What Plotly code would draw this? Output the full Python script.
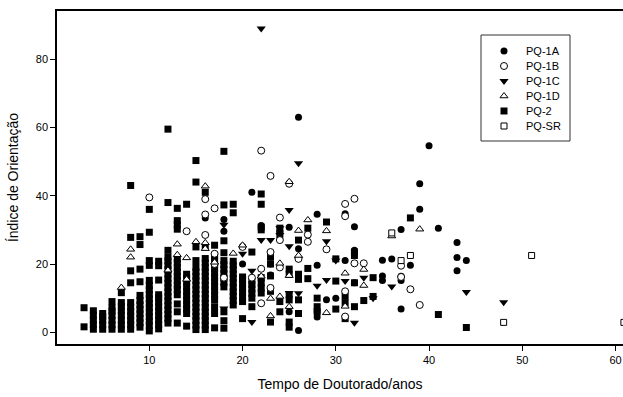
import plotly.graph_objects as go

# ---------------- data ----------------
series_names = ["PQ-1A", "PQ-1B", "PQ-1C", "PQ-1D", "PQ-2", "PQ-SR"]

# PQ-1A : filled circles
pq1a_x = [16, 18, 18, 20, 21, 22, 23, 23, 24, 25, 25, 26, 26, 26, 28, 28, 28, 28, 29, 30,
          31, 31, 32, 32, 32, 35, 35, 35, 36, 37, 37, 37, 37, 38, 39, 39, 40, 41, 43, 43, 43, 44]
pq1a_y = [33.5, 33.0, 29.6, 20.0, 41.0, 31.3, 20.0, 16.8, 29.5, 30.8, 6.0, 63.0, 24.5, 0.5, 34.6, 19.6, 4.5, 6.0, 9.5, 10.0,
          34.7, 21.0, 30.9, 24.0, 14.5, 21.1, 16.5, 15.2, 21.5, 30.1, 16.4, 15.2, 6.8, 19.6, 43.5, 36.0, 54.6, 30.5, 26.3, 21.9, 18.0, 21.0]

# PQ-1B : open circles
pq1b_x = [10, 14, 16, 16, 16, 17, 17, 17, 18, 20, 21, 22, 22, 22, 23, 23, 23, 24, 24, 24, 25, 26,
          27, 27, 29, 31, 31, 31, 31, 32, 32, 33, 37, 37, 38, 39]
pq1b_y = [39.5, 29.6, 39.0, 34.5, 28.5, 36.3, 23.0, 20.0, 16.0, 25.0, 16.0, 53.2, 18.6, 8.5, 45.8, 23.5, 13.0, 33.6, 27.0, 19.0, 43.5, 21.5,
          28.6, 26.5, 24.3, 37.6, 34.0, 12.0, 4.6, 39.1, 20.2, 20.2, 19.5, 16.2, 12.6, 8.0]

# PQ-1C : filled down-triangles
pq1c_x = [18, 18, 20, 21, 21, 22, 22, 23, 24, 24, 25, 25, 25, 26, 26, 26, 28, 29, 29, 30,
          31, 32, 33, 34, 36, 44, 48]
pq1c_y = [31.5, 7.0, 23.0, 18.0, 3.0, 89.0, 27.0, 27.0, 30.5, 28.5, 35.8, 25.2, 11.5, 49.5, 21.5, 11.4, 13.6, 26.7, 15.3, 21.0,
          15.0, 2.8, 16.0, 10.0, 13.4, 11.8, 8.8]

# PQ-1D : open up-triangles
pq1d_x = [7, 8, 8, 12, 13, 13, 14, 14, 15, 16, 16, 16, 17, 19, 20, 22, 23, 23, 24, 24,
          25, 25, 25, 26, 26, 27, 29, 29, 31, 31, 33, 33, 36, 39]
pq1d_y = [13.1, 24.3, 22.0, 18.2, 25.8, 22.7, 21.8, 15.5, 26.5, 42.8, 26.2, 24.5, 20.5, 23.1, 25.5, 16.4, 9.9, 4.8, 20.2, 10.5,
          44.1, 16.6, 7.5, 29.8, 22.5, 32.9, 29.7, 5.7, 17.3, 7.6, 18.4, 13.7, 28.2, 30.2]

# PQ-2 : filled squares, values per x (years)
pq2_cols = {
    3: [1.6, 7.2],
    4: [0.9, 2.3, 3.6, 5.0, 6.3],
    5: [0.9, 2.2, 3.5, 4.6, 5.5],
    6: [0.9, 2.2, 3.5, 4.9, 6.2, 7.1, 9.0],
    7: [0.9, 2.2, 3.6, 5.0, 6.3, 7.6, 8.7, 11.6],
    8: [0.9, 2.2, 3.5, 4.8, 6.1, 7.4, 8.7, 14.5, 18.0, 27.8, 43.0],
    9: [1.5, 2.8, 4.1, 5.4, 6.7, 8.0, 9.3, 10.8, 14.8, 18.5, 25.7, 28.0],
    10: [0.4, 2.0, 3.3, 4.6, 5.9, 7.2, 8.5, 9.8, 11.1, 12.4, 13.7, 15.2, 19.6, 21.0, 29.3, 36.0],
    11: [1.0, 2.3, 3.6, 4.9, 6.2, 7.5, 8.8, 10.1, 11.0, 15.3, 19.5, 20.8],
    12: [2.7, 4.0, 5.3, 6.6, 7.9, 9.2, 10.5, 11.8, 13.1, 14.4, 15.7, 17.0, 18.3, 19.6, 20.9, 22.0, 24.0, 38.0, 59.5],
    13: [2.7, 6.0, 8.3, 11.0, 12.5, 13.8, 15.1, 16.4, 17.7, 19.0, 20.3, 21.5, 30.2, 31.5, 32.7, 36.3],
    14: [1.8, 5.5, 6.8, 8.1, 9.4, 10.7, 12.0, 13.3, 14.6, 15.9, 17.0, 37.5],
    15: [0.8, 2.1, 3.4, 4.7, 6.0, 7.3, 8.6, 9.9, 11.2, 12.5, 13.8, 15.1, 16.4, 17.7, 19.0, 21.0, 25.0, 44.0, 50.3],
    16: [0.8, 2.1, 3.4, 4.7, 6.0, 7.3, 8.6, 9.9, 11.2, 12.5, 13.8, 15.1, 16.4, 17.7, 19.0, 20.3, 21.6, 25.0, 41.0],
    17: [1.3, 5.5, 7.5, 9.6, 10.9, 12.2, 13.5, 14.8, 16.1, 17.4, 18.7, 20.0, 21.3, 22.3, 25.5],
    18: [1.2, 3.4, 6.0, 13.3, 14.6, 15.9, 17.2, 18.5, 19.8, 21.0, 23.3, 26.8, 37.3, 53.0],
    19: [8.0, 9.3, 10.6, 11.9, 13.2, 14.5, 15.8, 17.1, 18.4, 19.6, 20.8, 35.0, 37.5],
    20: [4.0, 9.0, 10.3, 11.6, 12.9, 14.2, 15.5, 16.2],
    21: [7.5, 10.0, 11.4, 12.7, 14.0, 15.0, 23.5],
    22: [11.5, 13.0, 14.5, 16.0, 30.0, 30.8, 37.5, 40.5],
    23: [3.0, 12.0, 16.5, 20.0, 22.0],
    24: [6.0, 9.0, 28.5, 30.5],
    25: [1.5, 3.0, 9.5, 11.0, 17.0, 18.5],
    26: [5.5, 9.5, 15.5, 17.0, 27.0],
    27: [15.7, 18.7, 30.5],
    28: [6.0, 7.5, 10.0],
    29: [32.3],
    30: [6.8, 15.0, 21.5],
    31: [4.0, 8.5, 10.5],
    32: [7.5, 14.5, 22.5, 23.5],
    33: [9.3],
    34: [10.5, 16.0],
    38: [33.5],
    41: [5.2],
    44: [1.4],
}

# PQ-SR : open squares
pqsr_x = [36, 37, 38, 48, 51, 60.9]
pqsr_y = [29.1, 21.0, 22.5, 2.9, 22.5, 2.9]

x_ticks = [10, 20, 30, 40, 50, 60]
y_ticks = [0, 20, 40, 60, 80]

# ---------------- styles ----------------
BLACK = "black"
WHITE = "white"
TEXT = "#000000"
font_family = "Liberation Sans, Arial, sans-serif"

styles = {
    "PQ-1A": ("circle", BLACK, 7),
    "PQ-1B": ("circle", WHITE, 7),
    "PQ-1C": ("triangle-down", BLACK, 8),
    "PQ-1D": ("triangle-up", WHITE, 7),
    "PQ-2": ("square", BLACK, 7),
    "PQ-SR": ("square", WHITE, 6),
}

def marker_of(name):
    sym, fill, size = styles[name]
    return dict(symbol=sym, size=size, color=fill,
                line=dict(color=BLACK, width=1 if fill == WHITE else 0))

pq2_x = [x for x, ys in pq2_cols.items() for _ in ys]
pq2_y = [y for ys in pq2_cols.values() for y in ys]

data = {
    "PQ-1A": (pq1a_x, pq1a_y),
    "PQ-1B": (pq1b_x, pq1b_y),
    "PQ-1C": (pq1c_x, pq1c_y),
    "PQ-1D": (pq1d_x, pq1d_y),
    "PQ-2": (pq2_x, pq2_y),
    "PQ-SR": (pqsr_x, pqsr_y),
}

fig = go.Figure()
draw_order = ["PQ-2", "PQ-1A", "PQ-1C", "PQ-1B", "PQ-1D", "PQ-SR"]
for name in draw_order:
    xs, ys = data[name]
    fig.add_trace(go.Scatter(x=xs, y=ys, mode="markers", name=name,
                             marker=marker_of(name), showlegend=False,
                             cliponaxis=True, xaxis="x", yaxis="y"))

# ---- legend key drawn in a small inset (pixel units inside the legend box) ----
L_LEFT, L_RIGHT, L_TOP, L_BOTTOM = 481, 570, 35, 141   # legend box in page pixels
PLOT_L, PLOT_R, PLOT_T, PLOT_B = 57, 623, 11, 344      # plot area in page pixels
row_y = [16 + 15 * i for i in range(len(series_names))]
for name, ry in zip(series_names, row_y):
    fig.add_trace(go.Scatter(x=[23], y=[ry], mode="markers", marker=marker_of(name),
                             showlegend=False, hoverinfo="skip",
                             xaxis="x2", yaxis="y2", cliponaxis=False))
    fig.add_annotation(x=43, y=ry, xref="x2", yref="y2", text=name, showarrow=False,
                       xanchor="left", yanchor="middle",
                       font=dict(size=11, color=TEXT, family=font_family))

fig.add_shape(type="rect", xref="x2 domain", yref="y2 domain", x0=0, x1=1, y0=0, y1=1,
              line=dict(color="#333", width=1), fillcolor="rgba(0,0,0,0)")

pw, ph = PLOT_R - PLOT_L, PLOT_B - PLOT_T

fig.update_layout(
    width=623, height=397,
    margin=dict(l=PLOT_L, r=623 - PLOT_R, t=PLOT_T, b=397 - PLOT_B),
    paper_bgcolor="white", plot_bgcolor="rgba(0,0,0,0)",
    font=dict(family=font_family, size=11, color=TEXT),
    showlegend=False,
    xaxis=dict(
        range=[0.1, 60.8], tickvals=x_ticks, ticktext=[str(v) for v in x_ticks],
        showgrid=False, zeroline=False,
        showline=True, linecolor=BLACK, linewidth=1.5, mirror=True,
        ticks="outside", ticklen=5, tickcolor=BLACK, tickwidth=1,
        title=dict(text="Tempo de Doutorado/anos", font=dict(size=14, color=TEXT), standoff=14),
        tickfont=dict(size=11, color=TEXT),
    ),
    yaxis=dict(
        range=[-3.43, 94.1], tickvals=y_ticks, ticktext=[str(v) for v in y_ticks],
        showgrid=False, zeroline=False,
        showline=True, linecolor=BLACK, linewidth=1.5, mirror=False,
        ticks="outside", ticklen=5, tickcolor=BLACK, tickwidth=1,
        title=dict(text="Índice de Orientação", font=dict(size=14, color=TEXT), standoff=14),
        tickfont=dict(size=11, color=TEXT),
    ),
    xaxis2=dict(
        domain=[(L_LEFT - PLOT_L) / pw, (L_RIGHT - PLOT_L) / pw],
        range=[0, L_RIGHT - L_LEFT], visible=False, anchor="y2", fixedrange=True,
    ),
    yaxis2=dict(
        domain=[(PLOT_B - L_BOTTOM) / ph, (PLOT_B - L_TOP) / ph],
        range=[L_BOTTOM - L_TOP, 0], visible=False, anchor="x2", fixedrange=True,
    ),
)

fig.write_html("out.html")
